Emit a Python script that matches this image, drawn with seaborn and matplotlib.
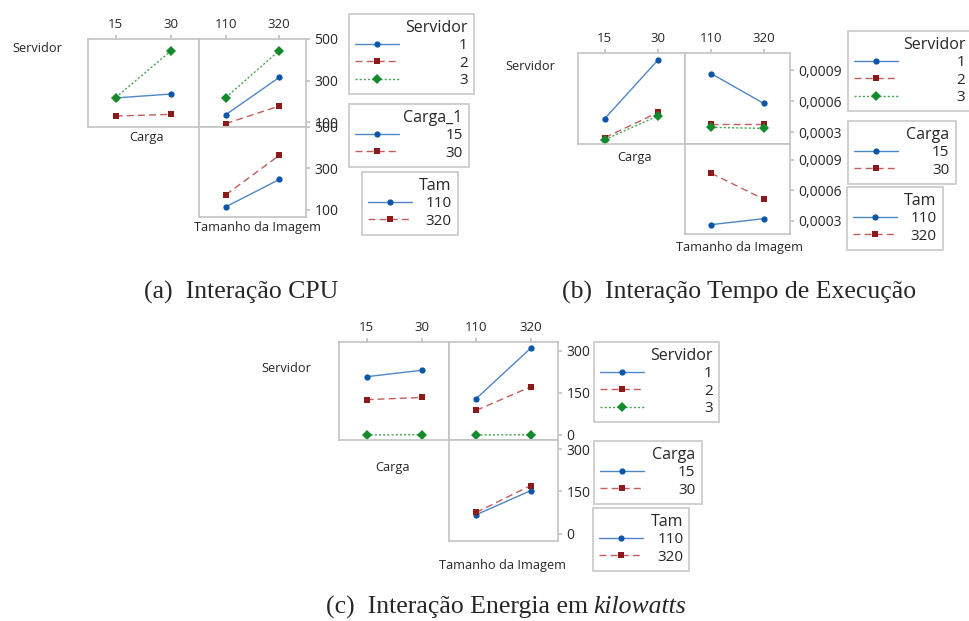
import pandas as pd
import seaborn as sns
import matplotlib.pyplot as plt
from matplotlib.lines import Line2D

sns.set_theme(style="white")
plt.rcParams['font.family'] = ['Open Sans', 'DejaVu Sans']

W, H = 969, 621

carga_levels = [15, 30]
tam_levels = [110, 320]
servidores = [1, 2, 3]

# (a) CPU - rows are the legend groups, columns the two x levels
cpu_serv_carga = [[216, 235], [129, 137], [218, 444]]
cpu_serv_tam = [[135, 315], [92, 177], [218, 444]]
cpu_carga_tam = [[115, 247], [173, 363]]
cpu_ticks = [100, 300, 500]

# (b) tempo de execucao
tempo_serv_carga = [[0.00043, 0.00100], [0.000245, 0.00049], [0.000226, 0.000458]]
tempo_serv_tam = [[0.000865, 0.000577], [0.000374, 0.000374], [0.000345, 0.000335]]
tempo_carga_tam = [[0.000264, 0.000323], [0.000769, 0.000515]]
tempo_ticks = [0.0003, 0.0006, 0.0009]

# (c) energia
energia_serv_carga = [[208, 231], [126, 134], [0, 1]]
energia_serv_tam = [[130, 310], [88, 172], [0, 1]]
energia_carga_tam = [[68, 153], [76, 171]]
energia_ticks = [0, 150, 300]

line_colors = ['#4f86c6', '#c45c5c', '#45a64f']
mark_colors = ['#0b56a6', '#8b1a1a', '#138a2c']
markers = ['o', 's', 'D']
dashes = ['', (5, 3), (1.5, 1.5)]
msizes = [4.5, 5, 5]
GRAY = '#c3c3c3'

fig = plt.figure(figsize=(W / 100, H / 100), dpi=100)


def add_box(x0, y0, x1, y1):
    return fig.add_axes([x0 / W, 1 - y1 / H, (x1 - x0) / W, (y1 - y0) / H])


def draw_panel(box, values, ylim, top_labels=None, right_ticks=None, fmt=None):
    ax = add_box(*box)
    df = pd.DataFrame({
        'pos': [i for row in values for i in range(len(row))],
        'val': [v for row in values for v in row],
        'grp': [str(g) for g, row in enumerate(values) for _ in row],
    })
    n = len(values)
    sns.lineplot(data=df, x='pos', y='val', hue='grp', style='grp',
                 palette=line_colors[:n], markers=markers[:n],
                 dashes=dashes[:n], linewidth=1, legend=False, ax=ax)
    for i, line in enumerate(ax.lines):
        line.set_markerfacecolor(mark_colors[i])
        line.set_markeredgecolor(mark_colors[i])
        line.set_markeredgewidth(0)
        line.set_markersize(msizes[i])
    ax.set_xlim(-0.5, 1.5)
    ax.set_ylim(*ylim)
    ax.set_xlabel('')
    ax.set_ylabel('')
    for s in ax.spines.values():
        s.set_color(GRAY)
        s.set_linewidth(1.2)
    if top_labels is not None:
        ax.set_xticks([0, 1])
        ax.set_xticklabels([str(v) for v in top_labels])
        ax.tick_params(axis='x', top=True, bottom=False, labeltop=True,
                       labelbottom=False, length=3, color=GRAY,
                       labelsize=9.5, pad=3)
    else:
        ax.set_xticks([])
    if right_ticks is not None:
        ax.set_yticks(right_ticks)
        ax.set_yticklabels([fmt(v) for v in right_ticks])
        ax.tick_params(axis='y', left=False, right=True, labelleft=False,
                       labelright=True, length=3, color=GRAY,
                       labelsize=10, pad=3)
    else:
        ax.set_yticks([])
    return ax


def make_legend(title, labels, x, y, textpad):
    handles = []
    for i in range(len(labels)):
        handles.append(Line2D([], [], color=line_colors[i], lw=1,
                              linestyle='-' if i == 0 else (0, dashes[i]),
                              marker=markers[i], markersize=msizes[i],
                              markerfacecolor=mark_colors[i],
                              markeredgecolor=mark_colors[i],
                              markeredgewidth=0))
    leg = fig.legend(handles, [str(v) for v in labels], title=title,
                     loc='upper left', bbox_to_anchor=(x / W, 1 - y / H),
                     bbox_transform=fig.transFigure, fontsize=11,
                     title_fontsize=11.5, alignment='right', frameon=True,
                     fancybox=False, framealpha=1, edgecolor='#c8c8c8',
                     handlelength=2.9, handletextpad=textpad,
                     borderpad=0.4, labelspacing=0.15, borderaxespad=0)
    leg.get_frame().set_linewidth(1.2)
    return leg


def label(x, y, s, ha='center'):
    fig.text(x / W, 1 - y / H, s, ha=ha, va='center', fontsize=9.2)


int_fmt = lambda v: str(int(v))
dec_fmt = lambda v: f"{v:.4f}".replace('.', ',')

# (a) CPU
draw_panel((88, 39, 199, 127), cpu_serv_carga, (76, 500), carga_levels)
draw_panel((199, 39, 306, 127), cpu_serv_tam, (76, 500), tam_levels,
           cpu_ticks, int_fmt)
draw_panel((199, 127, 306, 217), cpu_carga_tam, (66, 500), None,
           cpu_ticks, int_fmt)
label(12, 48, 'Servidor', ha='left')
label(146, 138, 'Carga')
label(257, 227, 'Tamanho da Imagem')
make_legend('Servidor', servidores, 349, 14, 3.9)
make_legend('Carga_1', carga_levels, 349, 104, 3.0)
make_legend('Tam', tam_levels, 362, 172, 0.85)

# (b) Tempo de execucao
draw_panel((578, 53, 685, 144), tempo_serv_carga, (0.000184, 0.001065),
           carga_levels)
draw_panel((685, 53, 790, 144), tempo_serv_tam, (0.000184, 0.001065),
           tam_levels, tempo_ticks, dec_fmt)
draw_panel((685, 144, 790, 234), tempo_carga_tam, (0.000172, 0.001057),
           None, tempo_ticks, dec_fmt)
label(505, 67, 'Servidor', ha='left')
label(635, 157, 'Carga')
label(739, 248, 'Tamanho da Imagem')
make_legend('Servidor', servidores, 848, 31, 3.8)
make_legend('Carga', carga_levels, 848, 121, 2.2)
make_legend('Tam', tam_levels, 847, 187, 0.85)

# (c) Energia
draw_panel((339, 342, 449, 440), energia_serv_carga, (-18, 332), carga_levels)
draw_panel((449, 342, 558, 440), energia_serv_tam, (-18, 332), tam_levels,
           energia_ticks, int_fmt)
draw_panel((449, 440, 558, 541), energia_carga_tam, (-25, 332), None,
           energia_ticks, int_fmt)
label(261, 368, 'Servidor', ha='left')
label(393, 467, 'Carga')
label(503, 566, 'Tamanho da Imagem')
make_legend('Servidor', servidores, 594, 342, 3.9)
make_legend('Carga', carga_levels, 594, 441, 2.2)
make_legend('Tam', tam_levels, 593, 508, 0.9)

# captions
serif = ['Liberation Serif', 'DejaVu Serif']
fig.text(241 / W, 1 - 292 / H, '(a)  Interação CPU', ha='center',
         va='center', fontsize=18.5, family=serif)
fig.text(739 / W, 1 - 292 / H, '(b)  Interação Tempo de Execução',
         ha='center', va='center', fontsize=18.5, family=serif)
fig.text(588 / W, 1 - 607 / H, '(c)  Interação Energia em', ha='right',
         va='center', fontsize=18.5, family=serif)
fig.text(593 / W, 1 - 607 / H, 'kilowatts', ha='left', va='center',
         fontsize=18.5, family=serif, style='italic')

fig.savefig('out.png', dpi=100)
